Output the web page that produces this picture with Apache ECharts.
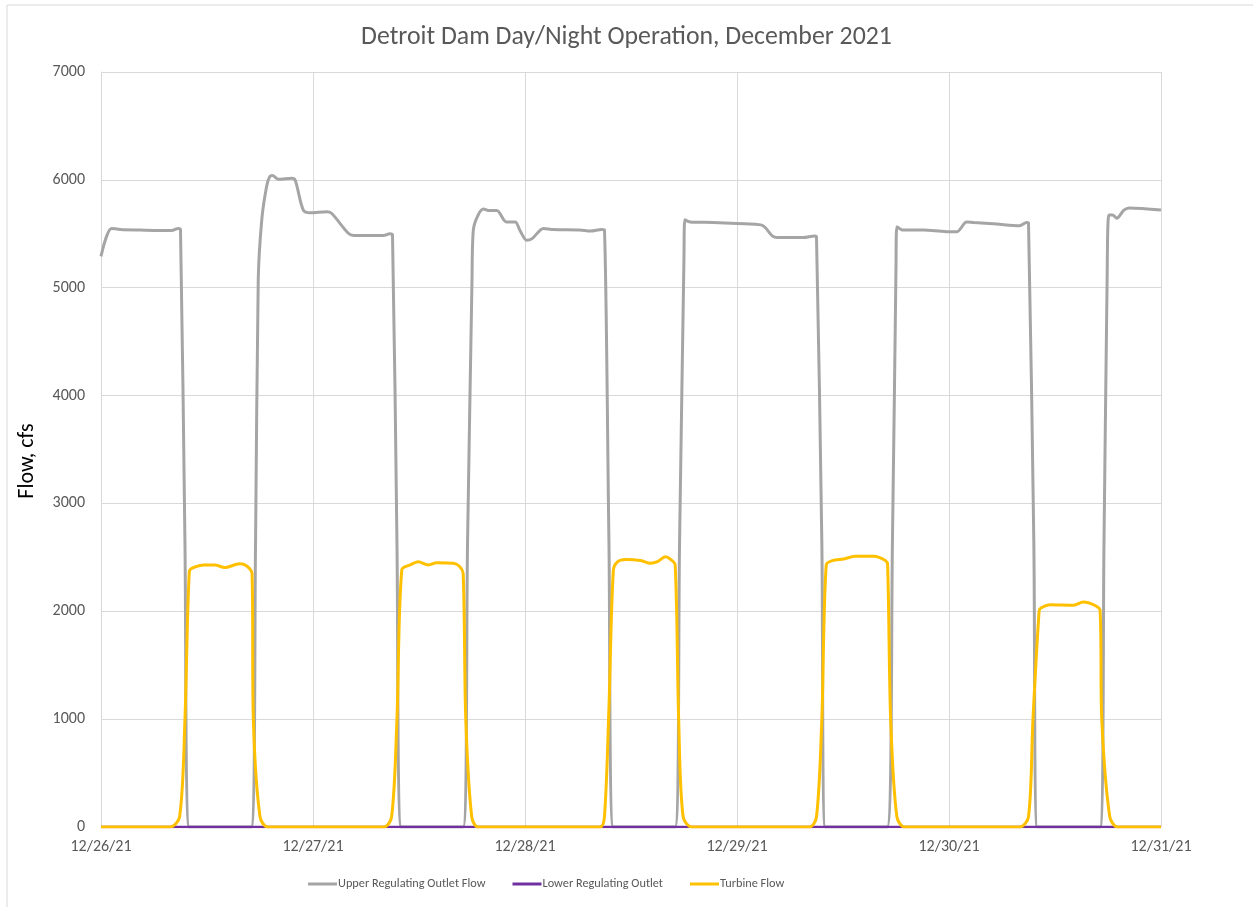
<!DOCTYPE html>
<html>
<head>
<meta charset="utf-8">
<title>Detroit Dam Day/Night Operation</title>
<script src="https://cdn.jsdelivr.net/npm/echarts@6/dist/echarts.min.js"></script>
<style>
  html, body { margin: 0; padding: 0; background: #fff; }
  #chart { width: 1253px; height: 907px; }
</style>
</head>
<body>
<div id="chart"></div>
<script>
// hours since 12/26/21 00:00
const dayLabels = ['12/26/21', '12/27/21', '12/28/21', '12/29/21', '12/30/21', '12/31/21'];

const upperHours = [0, 1.2, 2.2, 4.4, 8.0, 8.75, 9.0, 9.5, 10.0,
  17.0, 17.5, 17.8, 18.2, 18.75, 19.1, 19.4, 20.1, 21.6, 22.0, 22.9, 23.7, 25.55, 26.1, 28.0, 28.6, 32.0, 32.7, 33.0, 33.5, 34.0,
  41.0, 41.5, 42.0, 42.15, 42.7, 43.3, 43.85, 44.8, 45.9, 46.9, 47.4, 48.2, 48.8, 50.1, 51.2, 54.2, 55.4, 56.7, 57.0, 57.5, 58.0,
  65.0, 65.5, 66.0, 66.1, 66.7, 69.3, 72.0, 74.8, 76.1, 76.9, 79.5, 80.8, 81.0, 81.6, 82.0,
  89.0, 89.6, 90.0, 90.1, 90.8, 93.1, 95.7, 96.9, 98.0, 98.8, 101.4, 104.0, 104.8, 105.0, 105.6, 106.0,
  113.1, 113.55, 113.9, 114.1, 114.5, 115.0, 115.8, 116.4, 120];
const upperFlow = [5290, 5550, 5540, 5535, 5530, 5550, 5540, 2660, 0,
  0, 2660, 5070, 5630, 5940, 6030, 6040, 6005, 6015, 5995, 5720, 5695, 5705, 5690, 5505, 5485, 5485, 5500, 5490, 2660, 0,
  0, 2660, 5070, 5535, 5675, 5730, 5715, 5715, 5610, 5610, 5535, 5440, 5455, 5550, 5540, 5535, 5525, 5540, 5535, 2660, 0,
  0, 2660, 5300, 5630, 5610, 5605, 5595, 5580, 5475, 5465, 5465, 5480, 5470, 2660, 0,
  0, 2660, 5200, 5565, 5535, 5535, 5520, 5520, 5610, 5605, 5590, 5575, 5605, 5600, 2660, 0,
  0, 2660, 5070, 5675, 5675, 5645, 5720, 5740, 5720];

const lowerHours = [0, 120];
const lowerFlow = [0, 0];

const turbineHours = [0, 7.8, 8.9, 9.5, 10.0, 10.45, 11.6, 12.9, 14.0, 15.7, 16.5, 17.1, 17.25, 18.0, 18.9,
  32.0, 32.9, 33.5, 34.05, 35.0, 35.9, 37.05, 38.0, 39.9, 40.6, 41.0, 41.3, 41.97, 42.7,
  56.5, 57.0, 57.5, 58.0, 58.5, 59.4, 61.1, 62.2, 63.0, 63.9, 64.5, 65.0, 65.4, 65.9, 66.9,
  80.2, 81.0, 81.6, 82.1, 82.8, 84.1, 85.4, 87.5, 88.8, 89.05, 89.4, 90.1, 91.0,
  104.0, 105.0, 105.5, 106.2, 106.4, 107.5, 110.1, 111.2, 112.5, 113.1, 113.3, 114.2, 115.1, 120];
const turbineFlow = [0, 0, 95, 990, 2370, 2405, 2430, 2430, 2405, 2440, 2420, 2350, 990, 95, 0,
  0, 95, 990, 2385, 2430, 2460, 2430, 2450, 2445, 2415, 2350, 990, 95, 0,
  0, 100, 1100, 2380, 2460, 2480, 2470, 2445, 2460, 2505, 2480, 2430, 990, 95, 0,
  0, 95, 990, 2430, 2470, 2485, 2510, 2510, 2470, 2430, 990, 95, 0,
  0, 95, 990, 2000, 2030, 2060, 2055, 2085, 2055, 2010, 990, 95, 0, 0];

const zip = (xs, ys) => xs.map((x, i) => [x, ys[i]]);
const font = 'Carlito, "Liberation Sans Narrow", "Liberation Sans", sans-serif';

const chart = echarts.init(document.getElementById('chart'));
chart.setOption({
  backgroundColor: '#fff',
  animation: false,
  title: {
    text: 'Detroit Dam Day/Night Operation, December 2021',
    left: 'center',
    top: 20,
    textStyle: { fontFamily: font, fontSize: 25.8, fontWeight: 'normal', color: '#595959' }
  },
  graphic: [
    {
      type: 'rect',
      shape: { x: 7, y: 5, width: 1400, height: 1100 },
      style: { fill: 'none', stroke: '#d9d9d9', lineWidth: 1 },
      silent: true
    },
    {
      type: 'text',
      x: 27, y: 461,
      rotation: Math.PI / 2,
      style: {
        text: 'Flow, cfs',
        font: '22px ' + font,
        fill: '#000',
        align: 'center',
        verticalAlign: 'middle'
      }
    }
  ],
  legend: {
    left: 308,
    top: 877,
    padding: 0,
    icon: 'rect',
    itemWidth: 29,
    itemHeight: 3,
    itemGap: 27,
    textStyle: { fontFamily: font, fontSize: 12.3, lineHeight: 14, color: '#595959', padding: [0, 0, 0, -4] },
    data: ['Upper Regulating Outlet Flow', 'Lower Regulating Outlet', 'Turbine Flow']
  },
  grid: { left: 101, right: 92, top: 72, bottom: 80, containLabel: false },
  xAxis: {
    type: 'value',
    min: 0,
    max: 120,
    interval: 24,
    axisLine: { show: true, lineStyle: { color: '#d9d9d9', width: 1 } },
    axisTick: { show: false },
    splitLine: { show: true, lineStyle: { color: '#d9d9d9', width: 1 } },
    axisLabel: {
      margin: 12,
      fontFamily: font,
      fontSize: 16,
      color: '#595959',
      showMinLabel: true,
      showMaxLabel: true,
      formatter: v => dayLabels[Math.round(v / 24)]
    }
  },
  yAxis: {
    type: 'value',
    min: 0,
    max: 7000,
    interval: 1000,
    axisLine: { show: true, lineStyle: { color: '#d9d9d9', width: 1 } },
    axisTick: { show: false },
    splitLine: { show: true, lineStyle: { color: '#d9d9d9', width: 1 } },
    axisLabel: { margin: 16, fontFamily: font, fontSize: 16, color: '#595959', formatter: v => String(v) }
  },
  series: [
    {
      name: 'Upper Regulating Outlet Flow',
      type: 'line',
      symbol: 'none',
      smooth: 0.3,
      lineStyle: { color: '#a5a5a5', width: 3 },
      itemStyle: { color: '#a5a5a5' },
      data: zip(upperHours, upperFlow)
    },
    {
      name: 'Lower Regulating Outlet',
      type: 'line',
      symbol: 'none',
      lineStyle: { color: '#7030a0', width: 2.5 },
      itemStyle: { color: '#7030a0' },
      data: zip(lowerHours, lowerFlow)
    },
    {
      name: 'Turbine Flow',
      type: 'line',
      symbol: 'none',
      smooth: 0.3,
      lineStyle: { color: '#ffc000', width: 3 },
      itemStyle: { color: '#ffc000' },
      data: zip(turbineHours, turbineFlow)
    }
  ]
});
</script>
</body>
</html>
